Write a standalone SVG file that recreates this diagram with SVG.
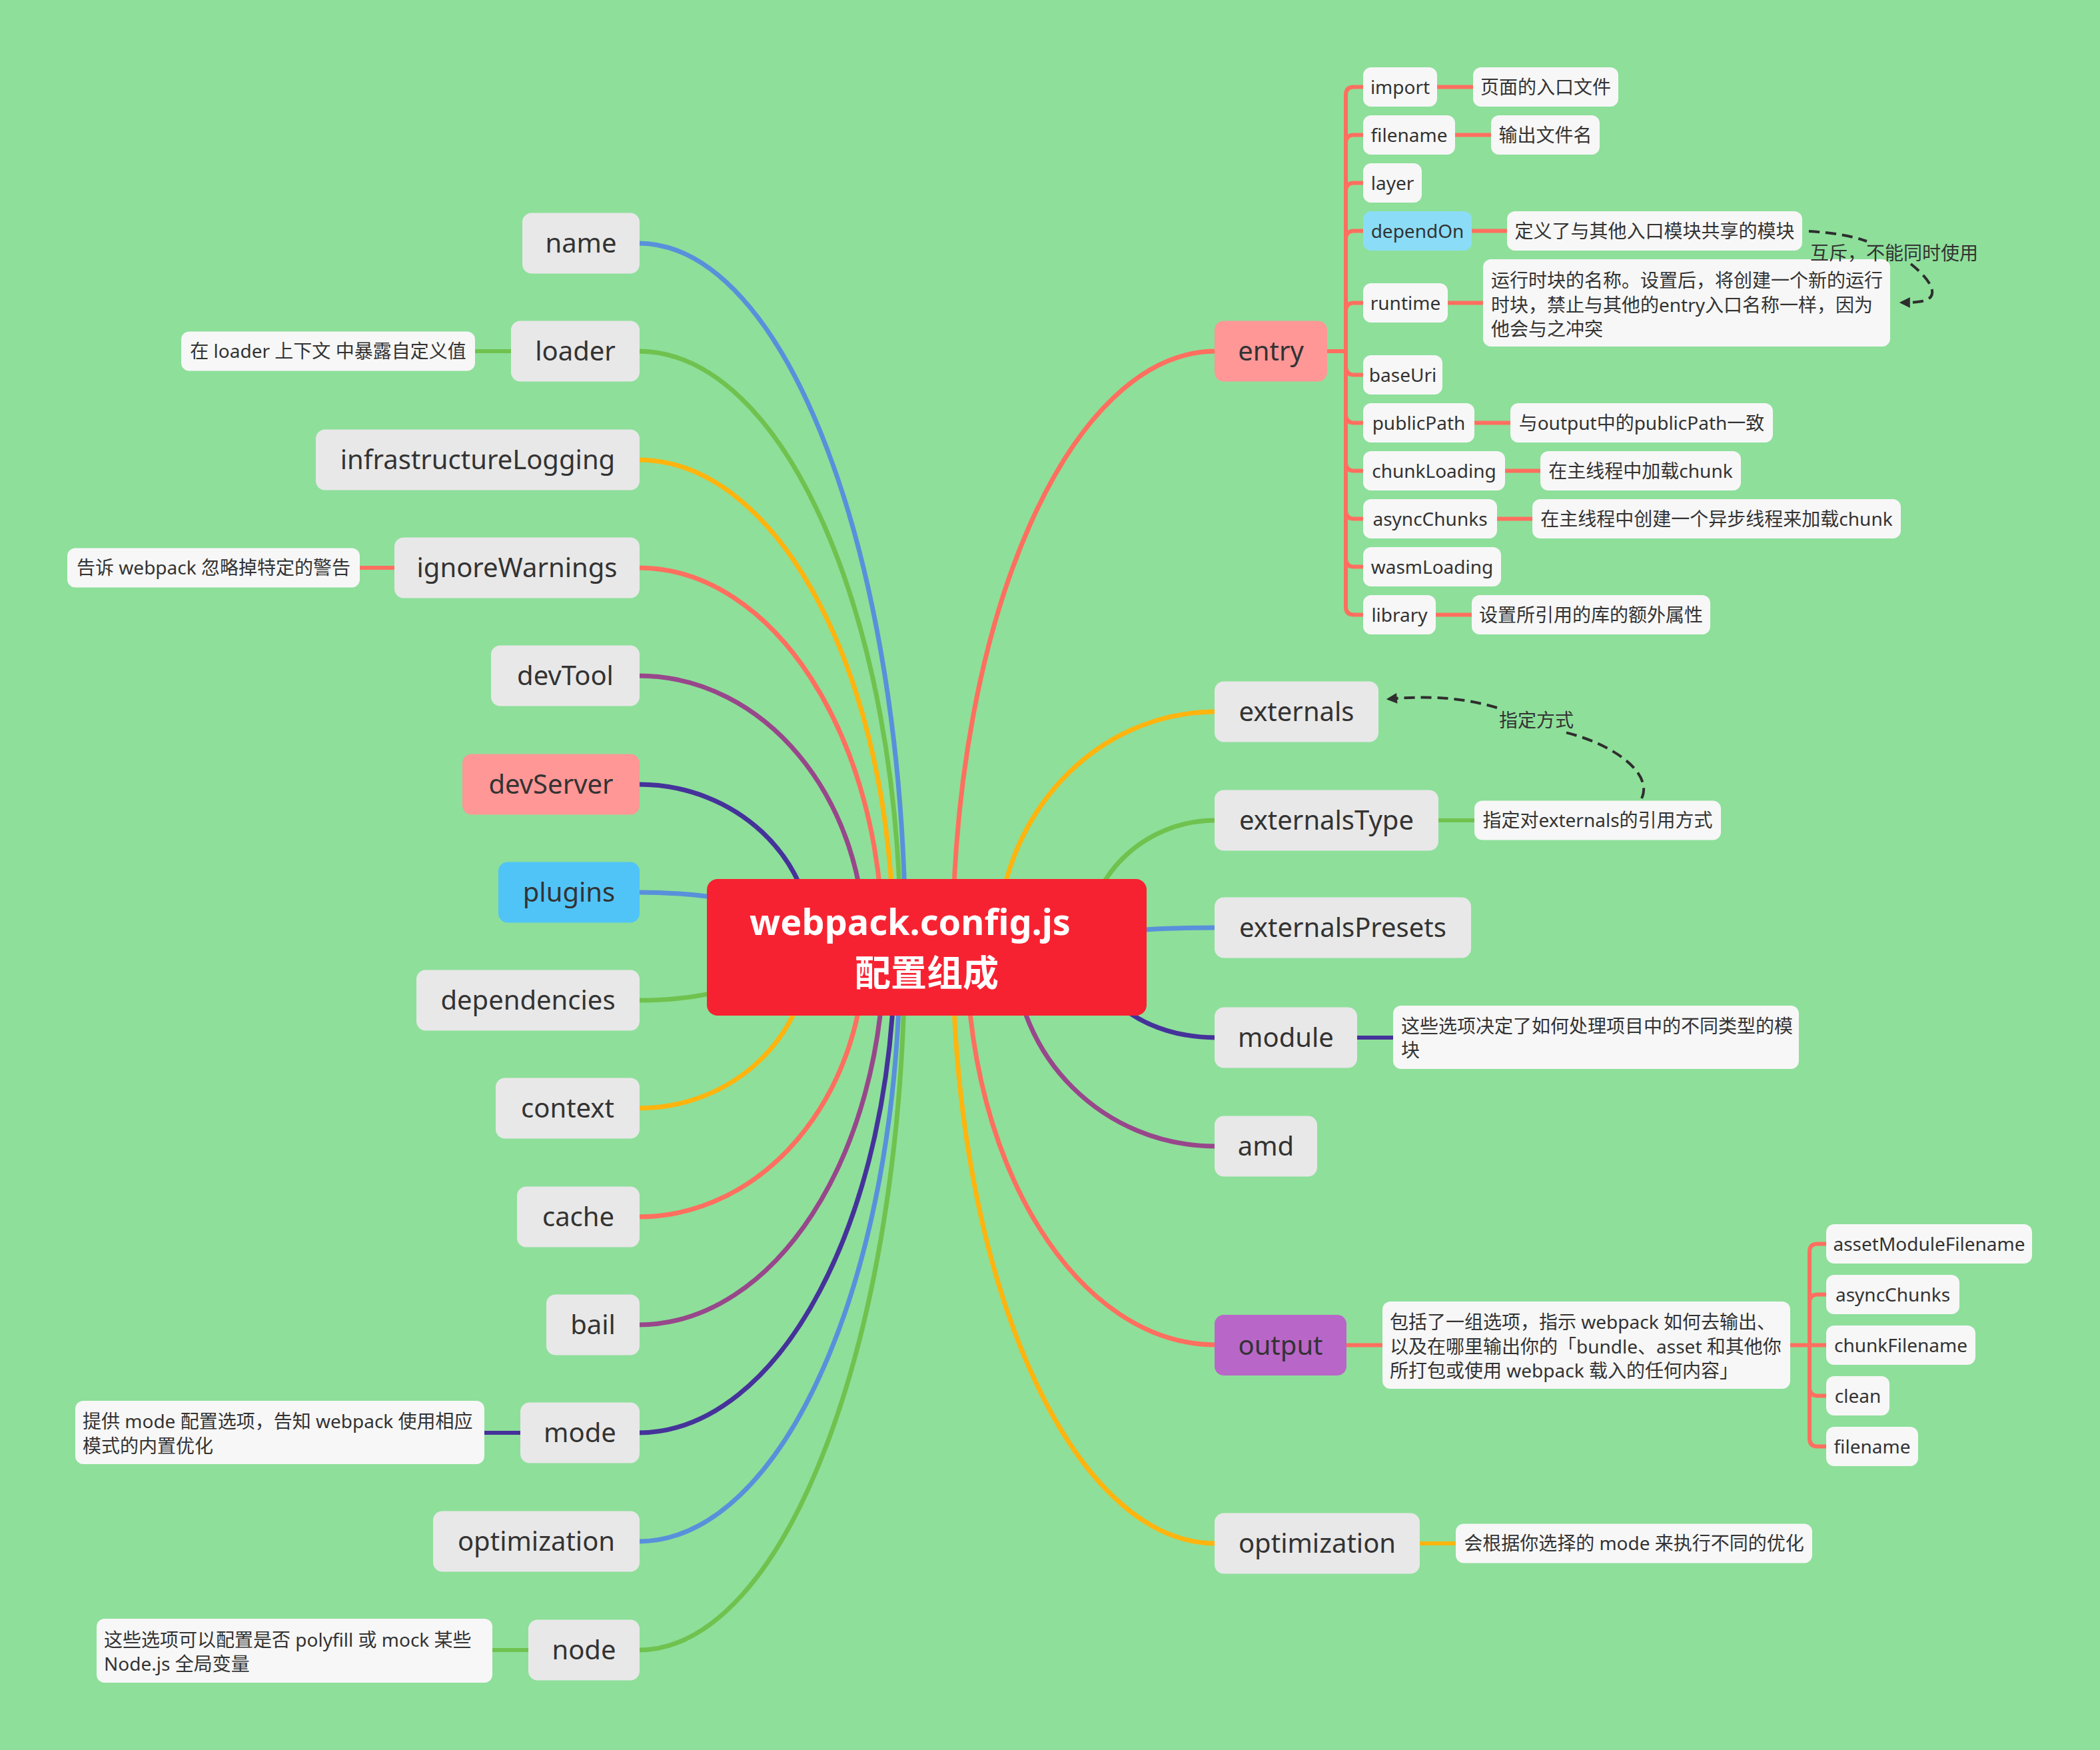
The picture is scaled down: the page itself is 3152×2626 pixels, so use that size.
<svg xmlns="http://www.w3.org/2000/svg" width="3152" height="2626" viewBox="0 0 3152 2626">
  <style>
    text { font-family: "Noto Sans", "Noto Sans CJK SC", sans-serif; fill: #333333; }
    .m text, text.m { font-size: 40px; text-anchor: middle; }
    .s text, text.s { font-size: 28px; text-anchor: middle; }
    .d text { font-size: 28px; }
    .m rect { fill: #e8e8e8; }
    .s rect, .d rect { fill: #f7f7f7; }
    .pink rect { fill: #ff9797; }
    .sky rect { fill: #51c4f7; }
    .lsky rect { fill: #8bddf7; }
    .violet rect { fill: #b966c9; }
    .cn { fill: none; stroke-width: 7; stroke-linecap: round; }
    .sb { fill: none; stroke-width: 6; }
    .blue { stroke: #5990db; }
    .green { stroke: #70c24f; }
    .yellow { stroke: #ffb40e; }
    .coral { stroke: #ff6f5f; }
    .purple { stroke: #98478b; }
    .indigo { stroke: #45329a; }
    .dash { fill: none; stroke: #2e2e2e; stroke-width: 4; stroke-dasharray: 16 9; }
    .lbl { font-size: 28px; }
  </style>
  <defs>
    <marker id="arrow" viewBox="0 0 10 10" refX="8" refY="5" markerUnits="userSpaceOnUse" markerWidth="18" markerHeight="16" orient="auto">
      <path d="M0,0 L10,5 L0,10 z" fill="#2e2e2e"/>
    </marker>
  </defs>

  <rect width="3152" height="2626" fill="#8edf9a"/>

  <g id="connectors">
    <!-- left-hand branches -->
    <path class="cn blue" d="M958,365 C1180,365 1359,838 1359,1421"/>
    <path class="cn green" d="M958,527 C1177,527 1352,927 1352,1421"/>
    <path class="cn yellow" d="M958,690 C1170,690 1341,1017 1341,1421"/>
    <path class="cn coral" d="M958,852 C1162,852 1325,1107 1325,1421"/>
    <path class="cn purple" d="M958,1014 C1147,1014 1298,1196 1298,1421"/>
    <path class="cn indigo" d="M958,1177 C1104,1177 1220,1286 1220,1421"/>
    <path class="cn blue" d="M958,1339 C1111,1339 1233,1376 1233,1421"/>
    <path class="cn green" d="M958,1501 C1080,1501 1177,1465 1177,1421"/>
    <path class="cn yellow" d="M958,1663 C1100,1663 1214,1555 1214,1421"/>
    <path class="cn coral" d="M958,1826 C1147,1826 1298,1645 1298,1421"/>
    <path class="cn purple" d="M958,1988 C1163,1988 1327,1734 1327,1421"/>
    <path class="cn indigo" d="M958,2150 C1172,2150 1343,1824 1343,1421"/>
    <path class="cn blue" d="M958,2313 C1176,2313 1351,1914 1351,1421"/>
    <path class="cn green" d="M958,2476 C1180,2476 1358,2003 1358,1421"/>
    <!-- right-hand branches -->
    <path class="cn coral" d="M1825,527 C1606,527 1430,927 1430,1421"/>
    <path class="cn yellow" d="M1825,1068 C1643,1068 1497,1226 1497,1421"/>
    <path class="cn green" d="M1825,1231 C1716,1231 1630,1316 1630,1421"/>
    <path class="cn blue" d="M1825,1392 C1695,1392 1592,1405 1592,1421"/>
    <path class="cn indigo" d="M1825,1557 C1720,1557 1636,1496 1636,1421"/>
    <path class="cn purple" d="M1825,1720 C1657,1720 1522,1586 1522,1421"/>
    <path class="cn coral" d="M1825,2018 C1618,2018 1451,1751 1451,1421"/>
    <path class="cn yellow" d="M1825,2316 C1606,2316 1430,1915 1430,1421"/>

    <!-- descriptions attached to first-level topics -->
    <path class="sb green" d="M711,527 H769"/>
    <path class="sb coral" d="M538,852 H594"/>
    <path class="sb indigo" d="M725,2150 H783"/>
    <path class="sb green" d="M737,2476 H795"/>
    <path class="sb green" d="M2157,1231 H2215"/>
    <path class="sb indigo" d="M2035,1557 H2093"/>
    <path class="sb yellow" d="M2129,2316 H2187"/>

    <!-- entry sub-tree -->
    <g class="sb coral">
      <path d="M1990,527 H2020"/>
      <path d="M2020,527 V142.5 Q2020,130.5 2032,130.5 H2048"/>
      <path d="M2020,527 V214.5 Q2020,202.5 2032,202.5 H2048"/>
      <path d="M2020,527 V286.5 Q2020,274.5 2032,274.5 H2048"/>
      <path d="M2020,527 V358.5 Q2020,346.5 2032,346.5 H2048"/>
      <path d="M2020,527 V466.5 Q2020,454.5 2032,454.5 H2048"/>
      <path d="M2020,527 V550.5 Q2020,562.5 2032,562.5 H2048"/>
      <path d="M2020,527 V622.5 Q2020,634.5 2032,634.5 H2048"/>
      <path d="M2020,527 V694.5 Q2020,706.5 2032,706.5 H2048"/>
      <path d="M2020,527 V766.5 Q2020,778.5 2032,778.5 H2048"/>
      <path d="M2020,527 V838.5 Q2020,850.5 2032,850.5 H2048"/>
      <path d="M2020,527 V910.5 Q2020,922.5 2032,922.5 H2048"/>
      <path d="M2155,130.5 H2213"/>
      <path d="M2182,202.5 H2240"/>
      <path d="M2207,346.5 H2264"/>
      <path d="M2171,454.5 H2228"/>
      <path d="M2211,634.5 H2269"/>
      <path d="M2257,706.5 H2314"/>
      <path d="M2245,778.5 H2302"/>
      <path d="M2153,922.5 H2211"/>
    </g>

    <!-- output sub-tree -->
    <g class="sb coral">
      <path d="M2019,2018.5 H2077"/>
      <path d="M2685,2018.5 H2743"/>
      <path d="M2716,2018.5 V1878.5 Q2716,1866.5 2728,1866.5 H2743"/>
      <path d="M2716,2018.5 V1954.5 Q2716,1942.5 2728,1942.5 H2743"/>
      <path d="M2716,2018.5 V2082.5 Q2716,2094.5 2728,2094.5 H2743"/>
      <path d="M2716,2018.5 V2158.5 Q2716,2170.5 2728,2170.5 H2743"/>
    </g>
  </g>

  <!-- central topic -->
  <g id="root">
    <rect x="1061" y="1319" width="660" height="205" rx="16" fill="#f72231"/>
    <text x="1366" y="1403" text-anchor="middle" font-size="54" font-weight="bold" style="fill:#ffffff">webpack.config.js</text>
    <text x="1391" y="1480" text-anchor="middle" font-size="54" font-weight="bold" style="fill:#ffffff">配置组成</text>
  </g>

  <!-- left first-level topics -->
  <g id="name" class="m"><rect x="784" y="319.5" width="176" height="91" rx="14"/><text x="872" y="379">name</text></g>
  <g id="loader" class="m"><rect x="767" y="481.5" width="193" height="91" rx="14"/><text x="863.5" y="541">loader</text></g>
  <g id="loader-note" class="d"><rect x="272" y="497.5" width="441" height="59" rx="12"/><text x="492.5" y="537" text-anchor="middle">在 loader 上下文 中暴露自定义值</text></g>
  <g id="infrastructureLogging" class="m"><rect x="474" y="644.5" width="486" height="91" rx="14"/><text x="717" y="704">infrastructureLogging</text></g>
  <g id="ignoreWarnings" class="m"><rect x="592" y="806.5" width="368" height="91" rx="14"/><text x="776" y="866">ignoreWarnings</text></g>
  <g id="ignoreWarnings-note" class="d"><rect x="101" y="822.5" width="439" height="59" rx="12"/><text x="320.5" y="862" text-anchor="middle">告诉 webpack 忽略掉特定的警告</text></g>
  <g id="devTool" class="m"><rect x="737" y="968.5" width="223" height="91" rx="14"/><text x="848.5" y="1028">devTool</text></g>
  <g id="devServer" class="m pink"><rect x="694" y="1131.5" width="266" height="91" rx="14"/><text x="827" y="1191">devServer</text></g>
  <g id="plugins" class="m sky"><rect x="748" y="1293.5" width="212" height="91" rx="14"/><text x="854" y="1353">plugins</text></g>
  <g id="dependencies" class="m"><rect x="625" y="1455.5" width="335" height="91" rx="14"/><text x="792.5" y="1515">dependencies</text></g>
  <g id="context" class="m"><rect x="744" y="1617.5" width="216" height="91" rx="14"/><text x="852" y="1677">context</text></g>
  <g id="cache" class="m"><rect x="776" y="1780.5" width="184" height="91" rx="14"/><text x="868" y="1840">cache</text></g>
  <g id="bail" class="m"><rect x="820" y="1942.5" width="140" height="91" rx="14"/><text x="890" y="2002">bail</text></g>
  <g id="mode" class="m"><rect x="781" y="2104.5" width="179" height="91" rx="14"/><text x="870.5" y="2164">mode</text></g>
  <g id="mode-note" class="d"><rect x="113" y="2102" width="614" height="95" rx="12"/>
    <text x="124" y="2143">提供 mode 配置选项，告知 webpack 使用相应</text>
    <text x="124" y="2180">模式的内置优化</text></g>
  <g id="optimization-left" class="m"><rect x="650" y="2267.5" width="310" height="91" rx="14"/><text x="805" y="2327">optimization</text></g>
  <g id="node" class="m"><rect x="793" y="2430.5" width="167" height="91" rx="14"/><text x="876.5" y="2490">node</text></g>
  <g id="node-note" class="d"><rect x="145" y="2429" width="594" height="96" rx="12"/>
    <text x="156" y="2471">这些选项可以配置是否 polyfill 或 mock 某些</text>
    <text x="156" y="2507">Node.js 全局变量</text></g>

  <!-- right first-level topics -->
  <g id="entry" class="m pink"><rect x="1823" y="481.5" width="169" height="91" rx="14"/><text x="1907.5" y="541">entry</text></g>
  <g id="externals" class="m"><rect x="1823" y="1022.5" width="246" height="91" rx="14"/><text x="1946" y="1082">externals</text></g>
  <g id="externalsType" class="m"><rect x="1823" y="1185.5" width="336" height="91" rx="14"/><text x="1991" y="1245">externalsType</text></g>
  <g id="externalsType-note" class="d"><rect x="2213" y="1201.5" width="370" height="59" rx="12"/><text x="2398" y="1241" text-anchor="middle">指定对externals的引用方式</text></g>
  <g id="externalsPresets" class="m"><rect x="1823" y="1346.5" width="385" height="91" rx="14"/><text x="2015.5" y="1406">externalsPresets</text></g>
  <g id="module" class="m"><rect x="1823" y="1511.5" width="214" height="91" rx="14"/><text x="1930" y="1571">module</text></g>
  <g id="module-note" class="d"><rect x="2091" y="1509" width="609" height="95" rx="12"/>
    <text x="2103" y="1550">这些选项决定了如何处理项目中的不同类型的模</text>
    <text x="2103" y="1586">块</text></g>
  <g id="amd" class="m"><rect x="1823" y="1674.5" width="154" height="91" rx="14"/><text x="1900" y="1734">amd</text></g>
  <g id="output" class="m violet"><rect x="1823" y="1973" width="198" height="91" rx="14"/><text x="1922" y="2032.5">output</text></g>
  <g id="output-note" class="d"><rect x="2075" y="1953" width="612" height="131" rx="12"/>
    <text x="2086" y="1994">包括了一组选项，指示 webpack 如何去输出、</text>
    <text x="2086" y="2031">以及在哪里输出你的「bundle、asset 和其他你</text>
    <text x="2086" y="2067">所打包或使用 webpack 载入的任何内容」</text></g>
  <g id="optimization-right" class="m"><rect x="1823" y="2270.5" width="308" height="91" rx="14"/><text x="1977" y="2330">optimization</text></g>
  <g id="optimization-right-note" class="d"><rect x="2185" y="2286.5" width="535" height="59" rx="12"/><text x="2452.5" y="2326" text-anchor="middle">会根据你选择的 mode 来执行不同的优化</text></g>

  <!-- entry options -->
  <g id="entry-import" class="s"><rect x="2046" y="101" width="111" height="59" rx="12"/><text x="2101.5" y="141">import</text></g>
  <g id="entry-import-note" class="d"><rect x="2211" y="101" width="218" height="59" rx="12"/><text x="2320" y="141" text-anchor="middle">页面的入口文件</text></g>
  <g id="entry-filename" class="s"><rect x="2046" y="173" width="138" height="59" rx="12"/><text x="2115" y="213">filename</text></g>
  <g id="entry-filename-note" class="d"><rect x="2238" y="173" width="163" height="59" rx="12"/><text x="2319.5" y="213" text-anchor="middle">输出文件名</text></g>
  <g id="entry-layer" class="s"><rect x="2046" y="245" width="88" height="59" rx="12"/><text x="2090" y="285">layer</text></g>
  <g id="entry-dependOn" class="s lsky"><rect x="2046" y="317" width="163" height="59" rx="12"/><text x="2127.5" y="357">dependOn</text></g>
  <g id="entry-dependOn-note" class="d"><rect x="2262" y="317" width="443" height="59" rx="12"/><text x="2483.5" y="357" text-anchor="middle">定义了与其他入口模块共享的模块</text></g>
  <g id="entry-runtime" class="s"><rect x="2046" y="425" width="127" height="59" rx="12"/><text x="2109.5" y="465">runtime</text></g>
  <g id="entry-runtime-note" class="d"><rect x="2226" y="389" width="611" height="131" rx="12"/>
    <text x="2238" y="431">运行时块的名称。设置后，将创建一个新的运行</text>
    <text x="2238" y="468">时块，禁止与其他的entry入口名称一样，因为</text>
    <text x="2238" y="504">他会与之冲突</text></g>
  <g id="entry-baseUri" class="s"><rect x="2046" y="533" width="119" height="59" rx="12"/><text x="2105.5" y="573">baseUri</text></g>
  <g id="entry-publicPath" class="s"><rect x="2046" y="605" width="167" height="59" rx="12"/><text x="2129.5" y="645">publicPath</text></g>
  <g id="entry-publicPath-note" class="d"><rect x="2267" y="605" width="394" height="59" rx="12"/><text x="2464" y="645" text-anchor="middle">与output中的publicPath一致</text></g>
  <g id="entry-chunkLoading" class="s"><rect x="2046" y="677" width="213" height="59" rx="12"/><text x="2152.5" y="717">chunkLoading</text></g>
  <g id="entry-chunkLoading-note" class="d"><rect x="2312" y="677" width="301" height="59" rx="12"/><text x="2462.5" y="717" text-anchor="middle">在主线程中加载chunk</text></g>
  <g id="entry-asyncChunks" class="s"><rect x="2046" y="749" width="201" height="59" rx="12"/><text x="2146.5" y="789">asyncChunks</text></g>
  <g id="entry-asyncChunks-note" class="d"><rect x="2300" y="749" width="553" height="59" rx="12"/><text x="2576.5" y="789" text-anchor="middle">在主线程中创建一个异步线程来加载chunk</text></g>
  <g id="entry-wasmLoading" class="s"><rect x="2046" y="821" width="207" height="59" rx="12"/><text x="2149.5" y="861">wasmLoading</text></g>
  <g id="entry-library" class="s"><rect x="2046" y="893" width="109" height="59" rx="12"/><text x="2100.5" y="933">library</text></g>
  <g id="entry-library-note" class="d"><rect x="2209" y="893" width="358" height="59" rx="12"/><text x="2388" y="933" text-anchor="middle">设置所引用的库的额外属性</text></g>

  <!-- output options -->
  <g id="output-assetModuleFilename" class="s"><rect x="2741" y="1837" width="309" height="59" rx="12"/><text x="2895.5" y="1877">assetModuleFilename</text></g>
  <g id="output-asyncChunks" class="s"><rect x="2741" y="1913" width="200" height="59" rx="12"/><text x="2841" y="1953">asyncChunks</text></g>
  <g id="output-chunkFilename" class="s"><rect x="2741" y="1989" width="224" height="59" rx="12"/><text x="2853" y="2029">chunkFilename</text></g>
  <g id="output-clean" class="s"><rect x="2741" y="2065" width="95" height="59" rx="12"/><text x="2788.5" y="2105">clean</text></g>
  <g id="output-filename" class="s"><rect x="2741" y="2141" width="138" height="59" rx="12"/><text x="2810" y="2181">filename</text></g>

  <!-- relationship lines, drawn above the topics -->
  <g id="relationships">
    <path class="dash" d="M2715,347 C2750,349 2780,354 2802,362"/>
    <path class="dash" d="M2868,396 C2898,420 2914,446 2885,452 C2875,454 2866,454 2854,454" marker-end="url(#arrow)"/>
    <text class="lbl" x="2717" y="390">互斥，不能同时使用</text>
    <path class="dash" d="M2464,1198 C2482,1160 2420,1115 2345,1098"/>
    <path class="dash" d="M2247,1062 C2200,1048 2150,1043 2084,1049" marker-end="url(#arrow)"/>
    <text class="lbl" x="2250" y="1091">指定方式</text>
  </g>
</svg>
